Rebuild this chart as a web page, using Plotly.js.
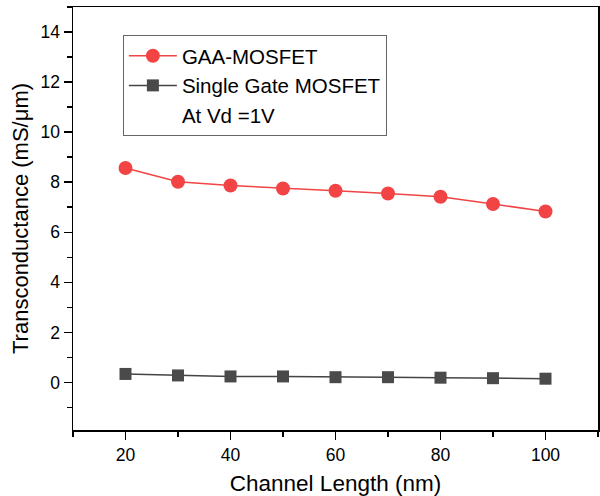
<!DOCTYPE html>
<html>
<head>
<meta charset="utf-8">
<script src="https://cdn.plot.ly/plotly-3.0.1.min.js"></script>
<style>html,body{margin:0;padding:0;background:#fff;}#chart{width:600px;height:496px;}</style>
</head>
<body>
<div id="chart"></div>
<script>
const channelLength = [20, 30, 40, 50, 60, 70, 80, 90, 100];
const gaaMosfet = [8.57, 8.02, 7.87, 7.75, 7.66, 7.55, 7.42, 7.13, 6.83];
const singleGateMosfet = [0.34, 0.28, 0.24, 0.24, 0.21, 0.21, 0.19, 0.17, 0.15];
const seriesNames = ["GAA-MOSFET", "Single Gate MOSFET", "At Vd =1V"];
const xTitle = "Channel Length (nm)";
const yTitle = "Transconductance (mS/μm)";

const FONT = "Arial, 'Liberation Sans', sans-serif";

const traces = [
  {
    x: channelLength, y: gaaMosfet, name: seriesNames[0],
    type: "scatter", mode: "lines+markers",
    line: {color: "#F24444", width: 1.5},
    marker: {symbol: "circle", size: 14, color: "#F24444"}
  },
  {
    x: channelLength, y: singleGateMosfet, name: seriesNames[1],
    type: "scatter", mode: "lines+markers",
    line: {color: "#444444", width: 1.5},
    marker: {symbol: "square", size: 12, color: "#4A4A4A"}
  },
  {
    x: [null], y: [null], name: seriesNames[2],
    type: "scatter", mode: "lines",
    line: {color: "rgba(0,0,0,0)", width: 0},
    showlegend: true, hoverinfo: "skip"
  }
];

const layout = {
  width: 600, height: 496,
  margin: {l: 73, r: 2, t: 7, b: 66},
  paper_bgcolor: "#fff", plot_bgcolor: "#fff",
  font: {family: FONT, color: "#000"},
  showlegend: true,
  legend: {
    x: 0.095, y: 0.934, xanchor: "left", yanchor: "top",
    bgcolor: "rgba(255,255,255,0)",
    bordercolor: "#666", borderwidth: 1,
    font: {family: FONT, size: 20.5, color: "#000"},
    traceorder: "normal",
    tracegroupgap: 0,
    itemwidth: 48
  },
  xaxis: {
    range: [10, 110],
    tickmode: "linear", tick0: 20, dtick: 20,
    ticks: "outside", ticklen: 8, tickwidth: 1.5, tickcolor: "#000",
    minor: {tickmode: "linear", tick0: 10, dtick: 10, ticks: "outside", ticklen: 5, tickwidth: 1.5, tickcolor: "#000", showgrid: false},
    showline: true, linewidth: 1.5, linecolor: "#000", mirror: true,
    showgrid: false, zeroline: false,
    tickfont: {family: FONT, size: 17.5, color: "#000"},
    title: {text: xTitle, font: {family: FONT, size: 22.5, color: "#000"}, standoff: 12},
    automargin: false
  },
  yaxis: {
    range: [-1.9, 15],
    tickmode: "linear", tick0: 0, dtick: 2,
    ticks: "outside", ticklen: 8, tickwidth: 1.5, tickcolor: "#000",
    minor: {tickmode: "linear", tick0: 1, dtick: 2, ticks: "outside", ticklen: 5, tickwidth: 1.5, tickcolor: "#000", showgrid: false},
    showline: true, linewidth: 1.5, linecolor: "#000", mirror: true,
    showgrid: false, zeroline: false,
    tickfont: {family: FONT, size: 17.5, color: "#000"},
    title: {text: yTitle, font: {family: FONT, size: 22, color: "#000"}, standoff: 6},
    automargin: false
  }
};

Plotly.newPlot("chart", traces, layout, {displayModeBar: false, staticPlot: true});
</script>
</body>
</html>
